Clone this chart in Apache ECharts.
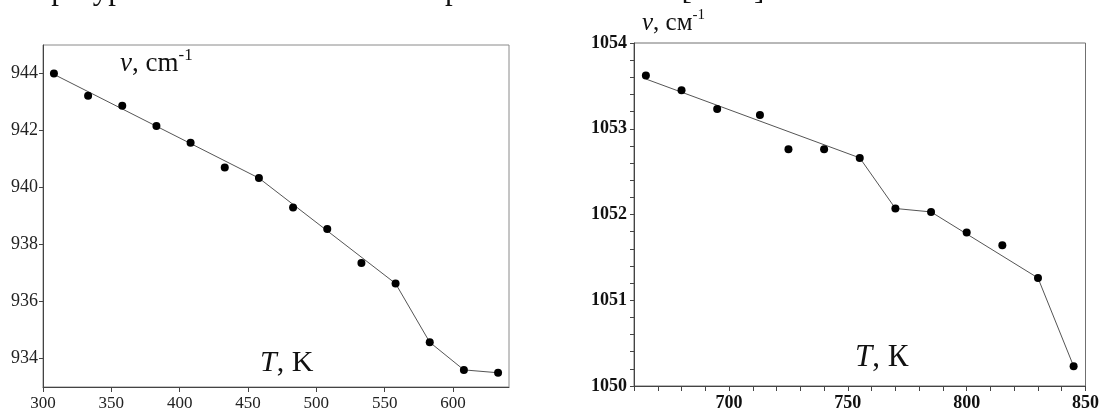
<!DOCTYPE html>
<html>
<head>
<meta charset="utf-8">
<script src="https://cdn.jsdelivr.net/npm/echarts@6/dist/echarts.min.js"></script>
<style>
  html, body { margin: 0; padding: 0; background: #fff; }
  #chart { width: 1102px; height: 412px; }
</style>
</head>
<body>
<div id="chart"></div>
<script>
// left panel: 944 band
const leftT = [308, 333, 358, 383, 408, 433, 458, 483, 508, 533, 558, 583, 608, 633];
const leftV = [944.0, 943.22, 942.87, 942.16, 941.57, 940.70, 940.33, 939.30, 938.54, 937.35, 936.63, 934.57, 933.60, 933.50];
const leftFitT = [308, 458, 558, 583, 608, 633];
const leftFitV = [943.97, 940.33, 936.63, 934.57, 933.60, 933.50];
const leftXTicks = [300, 350, 400, 450, 500, 550, 600];
const leftYTicks = [934, 936, 938, 940, 942, 944];

// right panel: 1053 band
const rightT = [665, 680, 695, 713, 725, 740, 755, 770, 785, 800, 815, 830, 845];
const rightV = [1053.62, 1053.45, 1053.23, 1053.16, 1052.76, 1052.76, 1052.66, 1052.07, 1052.03, 1051.79, 1051.64, 1051.26, 1050.23];
const rightFitT = [665, 755, 770, 785, 830, 845];
const rightFitV = [1053.58, 1052.66, 1052.07, 1052.03, 1051.26, 1050.23];

const serif = 'Liberation Serif';
const pairs = (xs, ys) => xs.map((x, i) => [x, ys[i]]);

const chart = echarts.init(document.getElementById('chart'));

const option = {
  backgroundColor: '#fff',
  animation: false,
  grid: [
    { left: 43, top: 45, width: 466, height: 345, show: true, borderColor: '#8a8a8a', borderWidth: 1 },
    { left: 634, top: 43, width: 452, height: 345, show: true, borderColor: '#707070', borderWidth: 1 }
  ],
  xAxis: [
    {
      gridIndex: 0, type: 'value', min: 300, max: 641, interval: 50,
      splitLine: { show: false },
      axisLine: { lineStyle: { color: '#444', width: 1 } },
      axisTick: { length: 5, customValues: leftXTicks, lineStyle: { color: '#444' } },
      axisLabel: { customValues: leftXTicks, margin: 8, color: '#222', fontFamily: serif, fontSize: 17 }
    },
    {
      gridIndex: 1, type: 'value', min: 660, max: 850, interval: 10,
      splitLine: { show: false },
      axisLine: { lineStyle: { color: '#444', width: 1 } },
      axisTick: { length: 5, lineStyle: { color: '#444' } },
      axisLabel: {
        margin: 8, color: '#111', fontFamily: serif, fontSize: 18, fontWeight: 'bold',
        formatter: v => (v % 50 === 0 ? String(v) : '')
      }
    }
  ],
  yAxis: [
    {
      gridIndex: 0, type: 'value', min: 933, max: 945,
      splitLine: { show: false },
      axisLine: { lineStyle: { color: '#444', width: 1 } },
      axisTick: { length: 4, customValues: leftYTicks, lineStyle: { color: '#444' } },
      axisLabel: { customValues: leftYTicks, margin: 5, color: '#222', fontFamily: serif, fontSize: 18 }
    },
    {
      gridIndex: 1, type: 'value', min: 1050, max: 1054, interval: 1,
      splitLine: { show: false },
      axisLine: { lineStyle: { color: '#444', width: 1 } },
      axisTick: { length: 4, lineStyle: { color: '#444' } },
      minorTick: { show: true, splitNumber: 5, length: 4, lineStyle: { color: '#444' } },
      minorSplitLine: { show: false },
      axisLabel: {
        margin: 7, color: '#111', fontFamily: serif, fontSize: 18, fontWeight: 'bold',
        formatter: v => String(v)
      }
    }
  ],
  series: [
    {
      type: 'line', xAxisIndex: 0, yAxisIndex: 0, data: pairs(leftFitT, leftFitV),
      symbol: 'none', lineStyle: { color: '#555', width: 1 }, z: 2
    },
    {
      type: 'scatter', xAxisIndex: 0, yAxisIndex: 0, data: pairs(leftT, leftV),
      symbolSize: 8, itemStyle: { color: '#000', opacity: 1 }, z: 3
    },
    {
      type: 'line', xAxisIndex: 1, yAxisIndex: 1, data: pairs(rightFitT, rightFitV),
      symbol: 'none', lineStyle: { color: '#555', width: 1 }, z: 2
    },
    {
      type: 'scatter', xAxisIndex: 1, yAxisIndex: 1, data: pairs(rightT, rightV),
      symbolSize: 8, itemStyle: { color: '#000', opacity: 1 }, z: 3
    }
  ],
  graphic: [
    {
      // tail of the paragraph above the figure, cut by the page edge
      type: 'text', right: 1102 - 772, top: -25,
      style: { text: 'температурных зависимостях спектральных величин [1 – 4].', font: '31px "Liberation Serif"', fill: '#111' }
    },
    {
      type: 'text', left: 120, top: 47,
      style: {
        text: '{i|v}{n|, cm}{s|-1}',
        rich: {
          i: { fontFamily: serif, fontStyle: 'italic', fontSize: 27, fill: '#111', verticalAlign: 'bottom', lineHeight: 30 },
          n: { fontFamily: serif, fontSize: 27, fill: '#111', verticalAlign: 'bottom', lineHeight: 30 },
          s: { fontFamily: serif, fontSize: 17, fill: '#111', verticalAlign: 'top', lineHeight: 30 }
        }
      }
    },
    {
      type: 'text', left: 260, top: 348,
      style: {
        text: '{i|T}{n|, K}',
        rich: {
          i: { fontFamily: serif, fontStyle: 'italic', fontSize: 30, fill: '#111' },
          n: { fontFamily: serif, fontSize: 30, fill: '#111' }
        }
      }
    },
    {
      type: 'text', left: 642, top: 8,
      style: {
        text: '{i|v}{n|, см}{s|-1}',
        rich: {
          i: { fontFamily: serif, fontStyle: 'italic', fontSize: 25, fill: '#111', verticalAlign: 'bottom', lineHeight: 28 },
          n: { fontFamily: serif, fontSize: 25, fill: '#111', verticalAlign: 'bottom', lineHeight: 28 },
          s: { fontFamily: serif, fontSize: 15, fill: '#111', verticalAlign: 'top', lineHeight: 28 }
        }
      }
    },
    {
      type: 'text', left: 855, top: 342,
      style: {
        text: '{i|T}{n|, К}',
        rich: {
          i: { fontFamily: serif, fontStyle: 'italic', fontSize: 31, fill: '#111' },
          n: { fontFamily: serif, fontSize: 31, fill: '#111' }
        }
      }
    }
  ]
};

chart.setOption(option);
</script>
</body>
</html>
